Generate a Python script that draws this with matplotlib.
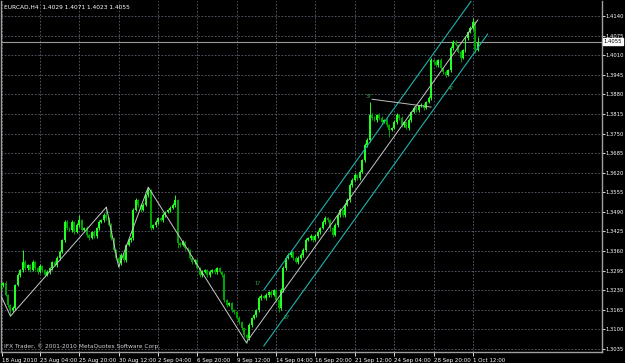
import numpy as np
import matplotlib
matplotlib.use("Agg")
import matplotlib.pyplot as plt

# EURCAD H4 closes, bar by bar
closes = [
    1.3247, 1.3254, 1.3214, 1.3181, 1.3164, 1.3171, 1.3247, 1.3280, 1.3297, 1.3323,
    1.3303, 1.3313, 1.3297, 1.3323, 1.3303, 1.3290, 1.3310, 1.3297, 1.3280, 1.3290,
    1.3303, 1.3323, 1.3313, 1.3337, 1.3357, 1.3396, 1.3456, 1.3436, 1.3430, 1.3456,
    1.3423, 1.3446, 1.3463, 1.3430, 1.3436, 1.3413, 1.3403, 1.3423, 1.3410, 1.3436,
    1.3456, 1.3463, 1.3479, 1.3469, 1.3446, 1.3403, 1.3363, 1.3337, 1.3320, 1.3347,
    1.3330, 1.3380, 1.3396, 1.3403, 1.3496, 1.3529, 1.3513, 1.3496, 1.3513, 1.3546,
    1.3562, 1.3436, 1.3446, 1.3456, 1.3469, 1.3463, 1.3479, 1.3489, 1.3496, 1.3503,
    1.3513, 1.3529, 1.3386, 1.3380, 1.3390, 1.3370, 1.3363, 1.3337, 1.3323, 1.3330,
    1.3303, 1.3280, 1.3290, 1.3297, 1.3280, 1.3290, 1.3297, 1.3290, 1.3303, 1.3290,
    1.3280, 1.3197, 1.3181, 1.3187, 1.3164, 1.3157, 1.3137, 1.3124, 1.3104, 1.3081,
    1.3071, 1.3114, 1.3137, 1.3147, 1.3164, 1.3204, 1.3210, 1.3204, 1.3214, 1.3224,
    1.3214, 1.3230, 1.3197, 1.3171, 1.3230, 1.3303, 1.3337, 1.3347, 1.3357, 1.3337,
    1.3323, 1.3337, 1.3347, 1.3363, 1.3396, 1.3403, 1.3410, 1.3396, 1.3410, 1.3423,
    1.3436, 1.3456, 1.3469, 1.3463, 1.3436, 1.3413, 1.3446, 1.3479, 1.3496, 1.3479,
    1.3513, 1.3529, 1.3579, 1.3596, 1.3612, 1.3602, 1.3622, 1.3662, 1.3712, 1.3728,
    1.3811, 1.3801, 1.3795, 1.3811, 1.3801, 1.3788, 1.3795, 1.3778, 1.3762, 1.3768,
    1.3788, 1.3811, 1.3801, 1.3778, 1.3788, 1.3768, 1.3795, 1.3821, 1.3835, 1.3828,
    1.3841, 1.3845, 1.3835, 1.3854, 1.3868, 1.3994, 1.3987, 1.3977, 1.3994, 1.3967,
    1.3954, 1.3944, 1.3961, 1.4034, 1.4055, 1.4044, 1.4020, 1.4001, 1.4027, 1.4067,
    1.4087, 1.4100, 1.4120, 1.4029, 1.4055,
]
first_open = 1.3240

# wick lengths in pips above the body and below it
upper_wick = [
    6, 4, 5, 3, 4, 8, 5, 6, 5, 40, 6, 5, 4, 8, 5, 4, 6, 5, 3, 6,
    5, 4, 6, 5, 6, 5, 8, 6, 5, 6, 5, 6, 16, 5, 4, 6, 3, 5, 6, 5,
    6, 5, 7, 27, 4, 6, 5, 4, 5, 6, 5, 4, 8, 5, 6, 7, 4, 5, 6, 5,
    10, 4, 5, 6, 4, 5, 6, 5, 4, 5, 6, 17, 5, 4, 6, 5, 4, 5, 6, 4,
    5, 4, 6, 5, 4, 6, 5, 7, 5, 4, 5, 6, 4, 5, 3, 5, 4, 6, 4, 5,
    4, 6, 5, 4, 5, 6, 7, 5, 6, 5, 6, 5, 4, 5, 6, 7, 8, 5, 6, 4,
    5, 6, 5, 6, 7, 5, 6, 4, 5, 6, 5, 6, 7, 5, 4, 5, 6, 5, 6, 4,
    5, 6, 7, 5, 6, 5, 6, 5, 7, 6, 45, 8, 6, 5, 7, 6, 5, 6, 4, 5,
    6, 7, 5, 6, 5, 4, 6, 5, 7, 6, 5, 6, 5, 4, 6, 6, 5, 7, 5, 6,
    5, 6, 4, 6, 7, 5, 4, 6, 5, 6, 5, 6, 13, 4, 16,
]
lower_wick = [
    5, 6, 4, 5, 20, 6, 5, 4, 6, 5, 5, 6, 5, 4, 6, 5, 4, 6, 5, 4,
    6, 5, 4, 5, 6, 5, 6, 5, 4, 6, 5, 4, 6, 5, 4, 5, 6, 4, 5, 6,
    5, 4, 6, 5, 4, 5, 6, 5, 13, 5, 6, 5, 4, 6, 5, 4, 6, 5, 4, 5,
    6, 5, 4, 6, 5, 4, 5, 6, 4, 5, 5, 6, 16, 5, 4, 6, 5, 4, 6, 5,
    4, 6, 5, 4, 6, 5, 4, 5, 6, 4, 5, 6, 5, 4, 6, 5, 4, 6, 5, 6,
    16, 5, 6, 4, 5, 6, 5, 4, 6, 5, 5, 4, 6, 14, 5, 6, 5, 4, 6, 5,
    4, 6, 5, 6, 5, 4, 6, 5, 4, 6, 5, 4, 6, 5, 8, 5, 4, 6, 5, 6,
    5, 4, 6, 5, 4, 6, 5, 4, 6, 5, 6, 5, 4, 6, 5, 6, 4, 5, 24, 5,
    4, 6, 5, 6, 5, 4, 6, 5, 4, 6, 5, 4, 6, 5, 4, 6, 5, 6, 5, 4,
    6, 5, 4, 5, 6, 5, 4, 14, 5, 6, 5, 4, 6, 12, 6,
]

# zigzag swing points (bar index, price)
zz_bars = [0, 4, 43, 48, 60, 100]
zz_prices = [1.3214, 1.3144, 1.3506, 1.3307, 1.3572, 1.3055]

# equidistant channel
mid_bars = [100, 194]
mid_prices = [1.3058, 1.4127]
chan_bars = [107, 198]
chan_upper = [1.3231, 1.4266]
chan_lower = [1.3045, 1.4080]

# short trend line near wave 3
tl_bars = [151, 175]
tl_prices = [1.3864, 1.3838]

wave_labels = ["1?", "2?", "3?", "4?"]
wave_bars = [104.5, 116.5, 149.5, 183]
wave_prices = [1.3251, 1.3141, 1.3874, 1.3898]

last_price = 1.4055

yticks = [1.3035, 1.3100, 1.3165, 1.3230, 1.3295, 1.3360, 1.3425, 1.3490, 1.3555,
          1.3620, 1.3685, 1.3750, 1.3815, 1.3880, 1.3945, 1.4010, 1.4075, 1.4140]
xtick_bars = [0.5, 16, 32, 48, 64, 80, 96, 112, 128, 144, 160, 176, 192]
xtick_labels = ["18 Aug 2010", "23 Aug 04:00", "25 Aug 20:00", "30 Aug 12:00",
                "2 Sep 04:00", "6 Sep 20:00", "9 Sep 12:00", "14 Sep 04:00",
                "16 Sep 20:00", "21 Sep 12:00", "24 Sep 04:00", "28 Sep 20:00",
                "1 Oct 12:00"]

c = np.array(closes)
o = np.array([first_open] + closes[:-1])
hi = np.maximum(o, c) + np.array(upper_wick) * 0.0001
lo = np.minimum(o, c) - np.array(lower_wick) * 0.0001
idx = np.arange(len(c))
bull = c >= o
cols = np.where(bull, "#22ff22", "#00a400")

fig = plt.figure(figsize=(6.25, 3.63), dpi=100, facecolor="black")
ax = fig.add_axes([1 / 625, 11 / 363, 601 / 625, 351 / 363])
ax.set_facecolor("black")

ax.grid(True, color="#5c6672", linestyle=(0, (2, 2)), linewidth=0.6)
ax.set_axisbelow(True)

ax.vlines(idx, lo, hi, colors=cols, linewidth=0.7, zorder=3)
ax.bar(idx, np.maximum(np.abs(c - o), 0.00006), bottom=np.minimum(o, c),
       width=0.8, color=cols, linewidth=0, zorder=3)

ax.plot(zz_bars, zz_prices, color="#c8c8c8", linewidth=0.7, zorder=4)
ax.plot(mid_bars, mid_prices, color="#c8c8c8", linewidth=0.7, zorder=4)
ax.plot(chan_bars, chan_upper, color="#20b2aa", linewidth=0.8, zorder=4)
ax.plot(chan_bars, chan_lower, color="#20b2aa", linewidth=0.8, zorder=4)
ax.plot(tl_bars, tl_prices, color="#c0c0c0", linewidth=0.7, zorder=4)

for lab, b, p in zip(wave_labels, wave_bars, wave_prices):
    ax.text(b, p, lab, color="#2fa84f", fontsize=3.8, ha="center", va="center", zorder=5)

ax.axhline(last_price, color="#9a9a9a", linewidth=0.8, zorder=2)

ax.set_xlim(0.15, 244.5)
ax.set_ylim(1.3025, 1.4190)

ax.yaxis.tick_right()
ax.set_yticks(yticks)
ax.set_yticklabels(["%.4f" % v for v in yticks])
ax.set_xticks(xtick_bars)
ax.set_xticklabels(xtick_labels)
plt.setp(ax.get_xticklabels(), ha="left")
ax.tick_params(axis="y", colors="white", labelsize=3.8, length=2, width=0.6, pad=0.6)
ax.tick_params(axis="x", colors="white", labelsize=4, length=3, width=0.6, pad=1)

ax.spines["top"].set_visible(False)
for side in ["left", "right", "bottom"]:
    ax.spines[side].set_color("#a0a0a0")
    ax.spines[side].set_linewidth(1)

ax.annotate("%.4f" % last_price, xy=(1.0, last_price), xycoords=("axes fraction", "data"),
            xytext=(1.2, 0), textcoords="offset points", fontsize=3.8, color="black",
            va="center", ha="left",
            bbox=dict(boxstyle="square,pad=0.15", facecolor="white", edgecolor="white"))

fig.text(4 / 625, 1 - 7 / 363, "EURCAD,H4  1.4029 1.4071 1.4023 1.4055",
         color="white", fontsize=4.2, va="center", ha="left")
fig.text(4 / 625, 1 - 346 / 363, "IFX Trader, \u00a9 2001-2010 MetaQuotes Software Corp.",
         color="#d0d0d0", fontsize=4.2, va="center", ha="left")

fig.savefig("out.png", dpi=100, facecolor="black")
